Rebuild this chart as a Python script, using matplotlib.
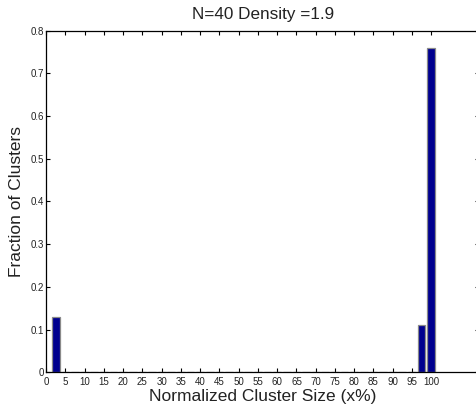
import numpy as np
import matplotlib.pyplot as plt

plt.rcParams['font.family'] = ['Liberation Sans', 'DejaVu Sans']

# cluster size bins (percent of N) and fraction of clusters in each
bin_centers = np.arange(2.5, 100.1, 2.5)
fractions = np.zeros(len(bin_centers))
fractions[0] = 0.13
fractions[-2] = 0.11
fractions[-1] = 0.76

xtick_vals = np.arange(0, 101, 5)
ytick_vals = np.arange(0, 0.81, 0.1)
ytick_labels = ["0", "0.1", "0.2", "0.3", "0.4", "0.5", "0.6", "0.7", "0.8"]

fig = plt.figure(figsize=(4.76, 4.07), dpi=100)
ax = fig.add_axes([0.097, 0.085, 0.91, 0.840])

ax.bar(bin_centers, fractions, width=2.0, color="#00008F",
       edgecolor="#8a8a8a", linewidth=0.9, zorder=2)

ax.set_xlim(0, 112.5)
ax.set_ylim(0, 0.8)
ax.set_xticks(xtick_vals)
ax.set_xticklabels([str(v) for v in xtick_vals])
ax.set_yticks(ytick_vals)
ax.set_yticklabels(ytick_labels)
ax.tick_params(direction="in", length=3, width=0.8, labelsize=7,
               top=True, right=True, colors="black", labelcolor="#222222")
ax.tick_params(axis="x", pad=3)
ax.tick_params(axis="y", pad=1.5)
for s in ax.spines.values():
    s.set_linewidth(0.9)

ax.set_title("N=40 Density =1.9", fontsize=12.3, color="#222222", pad=8.5)
ax.set_xlabel("Normalized Cluster Size (x%)", fontsize=12.5, color="#222222", labelpad=2)
ax.set_ylabel("Fraction of Clusters", fontsize=12.5, color="#222222", labelpad=5)

fig.savefig("out.png", dpi=100)
